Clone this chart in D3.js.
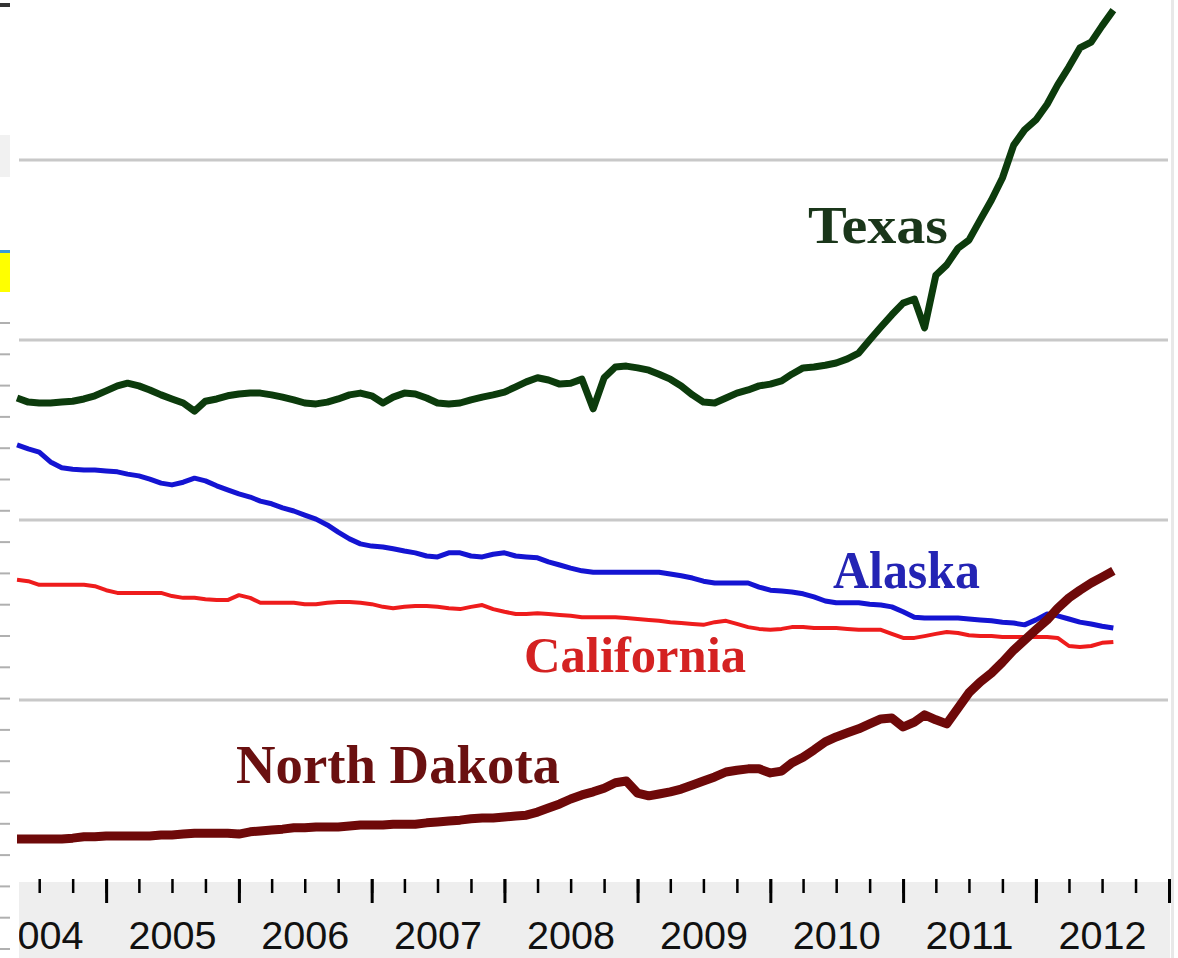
<!DOCTYPE html>
<html>
<head>
<meta charset="utf-8">
<script src="https://cdn.jsdelivr.net/npm/d3@7"></script>
<style>
  body { margin: 0; background: #fff; }
  svg { display: block; }
</style>
</head>
<body>
<div id="chart"></div>
<script>
// Monthly crude oil production (thousand barrels per day), May 2004 - Aug 2012
const firstMonth = new Date(2004, 4, 1);

const texas = [
  1071, 1062, 1060, 1060, 1062, 1064, 1069, 1076, 1087, 1098,
  1104, 1098, 1089, 1078, 1069, 1060, 1042, 1064, 1069, 1076,
  1080, 1082, 1082, 1078, 1073, 1067, 1060, 1058, 1062, 1069,
  1078, 1082, 1076, 1060, 1073, 1082, 1080, 1071, 1060, 1058,
  1060, 1067, 1073, 1078, 1084, 1096, 1107, 1116, 1111, 1102,
  1104, 1113, 1047, 1116, 1140, 1142, 1138, 1133, 1124, 1113,
  1098, 1078, 1062, 1060, 1071, 1082, 1089, 1098, 1102, 1109,
  1124, 1138, 1140, 1144, 1149, 1158, 1171, 1200, 1229, 1256,
  1282, 1291, 1227, 1344, 1367, 1404, 1422, 1467, 1511, 1560,
  1633, 1667, 1689, 1724, 1767, 1807, 1849, 1862, 1898, 1933
];

const alaska = [
  967, 958, 951, 929, 916, 913, 911, 911, 909, 907,
  902, 898, 891, 882, 878, 884, 893, 887, 876, 867,
  858, 851, 842, 836, 827, 820, 811, 802, 789, 773,
  758, 747, 742, 740, 736, 731, 727, 720, 718, 727,
  727, 720, 718, 724, 727, 720, 718, 716, 707, 700,
  693, 687, 684, 684, 684, 684, 684, 684, 684, 680,
  676, 671, 664, 660, 660, 660, 660, 651, 644, 642,
  640, 636, 629, 620, 616, 616, 616, 613, 611, 607,
  596, 584, 582, 582, 582, 582, 580, 578, 576, 573,
  571, 567, 578, 591, 587, 580, 573, 569, 564, 560
];

const california = [
  667, 664, 656, 656, 656, 656, 656, 653, 644, 638,
  638, 638, 638, 638, 631, 627, 627, 624, 622, 622,
  633, 627, 616, 616, 616, 616, 613, 613, 616, 618,
  618, 616, 613, 607, 604, 607, 609, 609, 607, 604,
  602, 607, 611, 602, 596, 591, 591, 593, 591, 589,
  587, 584, 584, 584, 584, 582, 580, 578, 576, 573,
  571, 569, 567, 573, 576, 569, 562, 558, 556, 558,
  562, 562, 560, 560, 560, 558, 556, 556, 556, 547,
  538, 538, 542, 547, 551, 549, 544, 542, 542, 540,
  540, 540, 540, 540, 538, 520, 518, 520, 527, 529
];

const northDakota = [
  91, 91, 91, 91, 91, 93, 96, 96, 98, 98,
  98, 98, 98, 100, 100, 102, 104, 104, 104, 104,
  102, 107, 109, 111, 113, 116, 116, 118, 118, 118,
  120, 122, 122, 122, 124, 124, 124, 127, 129, 131,
  133, 136, 138, 138, 140, 142, 144, 151, 160, 169,
  180, 189, 196, 204, 216, 220, 193, 187, 191, 196,
  202, 211, 220, 229, 240, 244, 247, 247, 238, 242,
  260, 273, 289, 307, 318, 327, 336, 347, 358, 360,
  340, 351, 367, 356, 347, 382, 416, 440, 460, 484,
  511, 533, 556, 578, 604, 627, 644, 660, 673, 687
];

const gridValues = [400, 800, 1200, 1600];
const yearLabels = [2004, 2005, 2006, 2007, 2008, 2009, 2010, 2011, 2012];

class StateProduction {

    constructor(_config, _series) {
        this.config = {
            parentElement: _config.parentElement,
            containerWidth: _config.containerWidth || 1178,
            containerHeight: _config.containerHeight || 958,
            plotLeft: 19,
            plotRight: 1168,
            baseline: 880
        };
        this.series = _series;
        this.initVis();
    }

    initVis() {
        let vis = this;
        const c = vis.config;

        vis.months = d3.timeMonth.range(firstMonth, d3.timeMonth.offset(firstMonth, texas.length));

        // year 2005 starts at x=106, 2013 at x=1169
        vis.xScale = d3.scaleTime()
            .domain([new Date(2004, 0, 1), new Date(2013, 0, 1)])
            .range([-27, 1169]);

        vis.yScale = d3.scaleLinear()
            .domain([0, 2000])
            .range([c.baseline, -20]);

        vis.svg = d3.select(c.parentElement)
            .append('svg')
            .attr('width', c.containerWidth)
            .attr('height', c.containerHeight)
            .style('background', '#fff');

        // bits of the page cut off at the left edge
        vis.svg.append('rect').attr('x', 0).attr('y', 3).attr('width', 10).attr('height', 4).attr('fill', '#333');
        vis.svg.append('rect').attr('x', 0).attr('y', 135).attr('width', 10).attr('height', 42).attr('fill', '#f1f1f1');
        vis.svg.append('rect').attr('x', 0).attr('y', 251).attr('width', 10).attr('height', 41).attr('fill', '#ffff00');
        vis.svg.append('rect').attr('x', 0).attr('y', 250).attr('width', 10).attr('height', 3).attr('fill', '#3a9ad9');
        vis.svg.append('g')
            .selectAll('line')
            .data(d3.range(21))
            .join('line')
            .attr('x1', 0).attr('x2', 10)
            .attr('y1', i => 323 + i * 31.3)
            .attr('y2', i => 323 + i * 31.3)
            .attr('stroke', '#b0b0b0')
            .attr('stroke-width', 2);

        // right border
        vis.svg.append('rect')
            .attr('x', 1171).attr('y', 0).attr('width', 3).attr('height', c.containerHeight)
            .attr('fill', '#e8e8e8');

        vis.svg.append('clipPath').attr('id', 'plot-clip')
            .append('rect')
            .attr('x', c.plotLeft).attr('y', 0)
            .attr('width', 1171 - c.plotLeft).attr('height', c.containerHeight);

        vis.gridG = vis.svg.append('g').attr('class', 'grid');
        vis.axisG = vis.svg.append('g').attr('class', 'axis').attr('clip-path', 'url(#plot-clip)');
        vis.linesG = vis.svg.append('g').attr('class', 'lines');
        vis.labelsG = vis.svg.append('g').attr('class', 'labels');

        vis.line = d3.line()
            .x((d, i) => vis.xScale(vis.months[i]))
            .y(d => vis.yScale(d));

        vis.renderVis();
    }

    renderVis() {
        let vis = this;
        const c = vis.config;

        vis.gridG.selectAll('line')
            .data(gridValues)
            .join('line')
            .attr('x1', c.plotLeft)
            .attr('x2', c.plotRight)
            .attr('y1', d => vis.yScale(d))
            .attr('y2', d => vis.yScale(d))
            .attr('stroke', '#c8c8c8')
            .attr('stroke-width', 3);

        // gray axis band
        vis.axisG.append('rect')
            .attr('x', c.plotLeft)
            .attr('y', c.baseline + 2)
            .attr('width', 1170 - c.plotLeft)
            .attr('height', c.containerHeight - c.baseline - 2)
            .attr('fill', '#eeeeee');

        const minorAxis = d3.axisBottom(vis.xScale)
            .ticks(d3.timeMonth.every(3))
            .tickSize(14)
            .tickFormat('');

        const majorAxis = d3.axisBottom(vis.xScale)
            .ticks(d3.timeYear.every(1))
            .tickSize(24)
            .tickFormat('');

        vis.axisG.append('g')
            .attr('transform', `translate(0,${c.baseline - 1})`)
            .call(minorAxis)
            .call(g => g.select('.domain').remove())
            .call(g => g.selectAll('line').attr('stroke', '#000').attr('stroke-width', 2.5));

        vis.axisG.append('g')
            .attr('transform', `translate(0,${c.baseline - 1})`)
            .call(majorAxis)
            .call(g => g.select('.domain').remove())
            .call(g => g.selectAll('line').attr('stroke', '#000').attr('stroke-width', 3));

        vis.axisG.selectAll('.year-label')
            .data(yearLabels)
            .join('text')
            .attr('class', 'year-label')
            .attr('x', d => (vis.xScale(new Date(d, 0, 1)) + vis.xScale(new Date(d + 1, 0, 1))) / 2)
            .attr('y', 949)
            .attr('text-anchor', 'middle')
            .attr('font-family', '"Liberation Sans", Arial, sans-serif')
            .attr('font-size', 38)
            .attr('textLength', 88)
            .attr('lengthAdjust', 'spacingAndGlyphs')
            .attr('fill', '#111')
            .text(d => d);

        vis.linesG.selectAll('path')
            .data(vis.series)
            .join('path')
            .attr('d', d => vis.line(d.values))
            .attr('fill', 'none')
            .attr('stroke', d => d.color)
            .attr('stroke-width', d => d.width)
            .attr('stroke-linejoin', 'round');

        vis.labelsG.selectAll('text')
            .data(vis.series)
            .join('text')
            .attr('x', d => d.label.x)
            .attr('y', d => d.label.y)
            .attr('font-family', '"Liberation Serif", "Times New Roman", serif')
            .attr('font-weight', 'bold')
            .attr('font-size', d => d.label.size)
            .attr('textLength', d => d.label.w)
            .attr('lengthAdjust', 'spacingAndGlyphs')
            .attr('fill', d => d.label.color)
            .text(d => d.name);
    }
}

const chart = new StateProduction({ parentElement: '#chart' }, [
    { name: 'California', values: california, color: '#ee1c1c', width: 4,
      label: { x: 524, y: 672, size: 51, w: 222, color: '#d42222' } },
    { name: 'Alaska', values: alaska, color: '#1414d2', width: 5,
      label: { x: 833, y: 588, size: 52, w: 147, color: '#2424b4' } },
    { name: 'North Dakota', values: northDakota, color: '#6e0909', width: 9,
      label: { x: 236, y: 783, size: 54, w: 324, color: '#6a1010' } },
    { name: 'Texas', values: texas, color: '#0c3b0c', width: 7,
      label: { x: 808, y: 243, size: 53, w: 140, color: '#1a361a' } }
]);
</script>
</body>
</html>
